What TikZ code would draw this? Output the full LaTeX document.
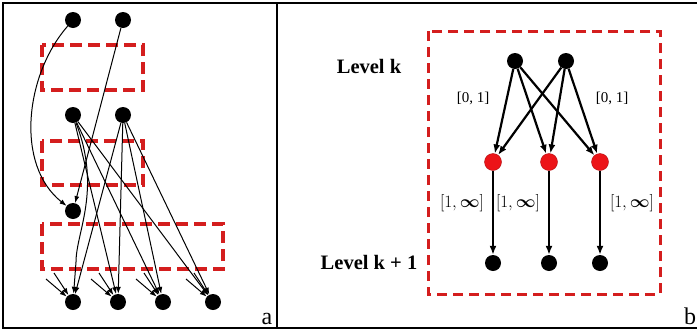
\documentclass[tikz,border=0pt]{standalone}
\usepackage{amsmath,amssymb,bm}
\usepackage{fontspec}
\setmainfont{Liberation Serif}
\usepackage{xcolor}
\usepackage{tikz}
\usetikzlibrary{arrows.meta,calc}
\definecolor{figline}{RGB}{0,0,0}
\definecolor{figdash}{RGB}{212,30,30}
\definecolor{figred}{RGB}{236,20,24}
\tikzset{
  frm/.style  ={draw=figline, line width=2.5pt},
  dbox/.style ={draw=figdash, line width=3.5pt, dash pattern=on 12pt off 6pt},
  dboxb/.style={draw=figdash, line width=3pt, dash pattern=on 10pt off 6pt},
  dot/.style  ={circle, fill=black, minimum size=16pt, inner sep=0pt},
  rdot/.style ={circle, fill=figred, draw=figred!75!black, line width=0.4pt, minimum size=17pt, inner sep=0pt},
  tarr/.style ={draw=figline, line width=1pt, -{Latex[length=7pt,width=5pt]}},
  barr/.style ={draw=figline, line width=2.2pt, -{Latex[length=9pt,width=7pt]}},
  lvl/.style  ={font=\fontsize{20.5}{24}\selectfont\bfseries, inner sep=0pt},
  rng/.style  ={font=\fontsize{15}{18}\selectfont, inner sep=1pt},
  rngb/.style ={font=\fontsize{17.5}{20}\selectfont, inner sep=1pt},
  tag/.style  ={font=\fontsize{24}{26}\selectfont, inner sep=0pt},
}

\begin{document}
\begin{tikzpicture}[x=1pt,y=-1pt]
  \useasboundingbox (0,0) rectangle (697,330);
  \fill[white] (0,0) rectangle (697,330);
  % frame
  \draw[frm] (700,3) -- (3,3) -- (3,328) -- (700,328);
  \draw[frm] (277,3) -- (277,328);
  % panel a
  \begin{scope}
  \draw[dbox] (42,45) rectangle (143,90);
  \draw[dbox] (42,141) rectangle (143,185);
  \draw[dbox] (42,224) rectangle (223,269);
  \node[dot] (a-t1) at (73,20) {};
  \node[dot] (a-t2) at (123,20) {};
  \node[dot] (a-m1) at (73,115) {};
  \node[dot] (a-m2) at (123,115) {};
  \node[dot] (a-l) at (73,211) {};
  \node[dot] (a-b1) at (73,302) {};
  \node[dot] (a-b2) at (118,302) {};
  \node[dot] (a-b3) at (163,302) {};
  \node[dot] (a-b4) at (213,302) {};
  \coordinate (a-k) at (76,262);
  \draw[tarr] (a-t1) .. controls (25,75) and (15,165) .. (a-l);
  \draw[tarr] (a-t2) -- (a-l);
  \draw[tarr] (a-m1) .. controls (102,190) and (76,232) .. (a-k) -- (a-b1);
  \foreach \n in {2,3,4}
    \draw[tarr] (a-m1) -- (a-b\n);
  \foreach \n in {1,2,3,4}
    \draw[tarr] (a-m2) -- (a-b\n);
  \foreach \n in {1,2,3,4} {
    \draw[tarr] ($(a-b\n)+(-27,-23)$) -- (a-b\n);
    \draw[tarr] ($(a-b\n)+(-19,-29)$) -- (a-b\n);
  }
  \node[tag,anchor=base] (a-tag) at (267,324) {a};
  \end{scope}
  % panel b
  \begin{scope}
  \draw[dboxb] (428,31) rectangle (660,294);
  \node[lvl,anchor=base] (b-lk) at (369,73) {Level k};
  \node[lvl,anchor=base] (b-lk1) at (369,269) {Level k + 1};
  \node[dot] (b-t1) at (515,61) {};
  \node[dot] (b-t2) at (566,61) {};
  \node[rdot] (b-r1) at (493,162) {};
  \node[rdot] (b-r2) at (549,162) {};
  \node[rdot] (b-r3) at (600,162) {};
  \node[dot] (b-n1) at (493,263) {};
  \node[dot] (b-n2) at (549,263) {};
  \node[dot] (b-n3) at (600,263) {};
  \foreach \s in {1,2}
    \foreach \r in {1,2,3}
      \draw[barr] (b-t\s) -- (b-r\r);
  \foreach \n in {1,2,3}
    \draw[barr] (b-r\n) -- (b-n\n);
  \node[rng,anchor=base] (b-w1) at (473,102) {[0, 1]};
  \node[rng,anchor=base] (b-w2) at (612,102) {[0, 1]};
  \node[rngb] (b-v1) at (462,203) {$[1,\boldsymbol{\infty}]$};
  \node[rngb] (b-v2) at (518,203) {$[1,\boldsymbol{\infty}]$};
  \node[rngb] (b-v3) at (632,203) {$[1,\boldsymbol{\infty}]$};
  \node[tag,anchor=base west] (b-tag) at (684,324) {b};
  \end{scope}
\end{tikzpicture}
\end{document}
